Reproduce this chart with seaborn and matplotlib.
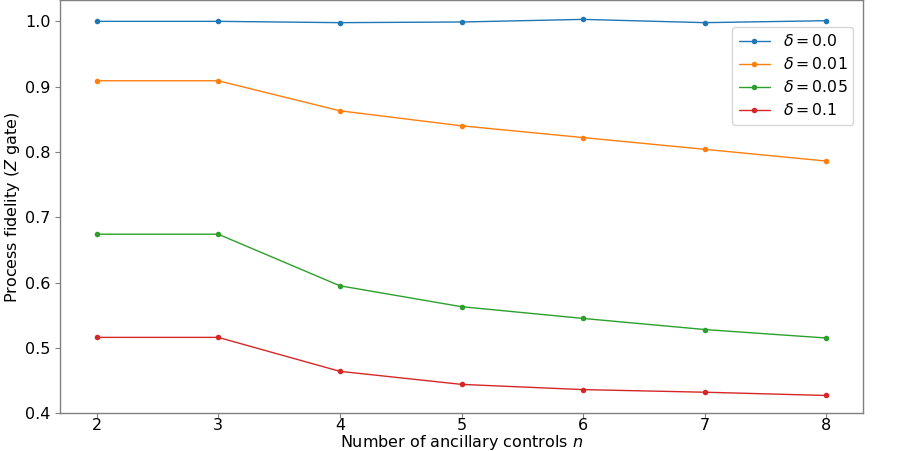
import pandas as pd
import matplotlib
matplotlib.use("Agg")
import matplotlib.pyplot as plt
import seaborn as sns

# Valeurs
n_controls = [2, 3, 4, 5, 6, 7, 8]
fid_d000 = [1.000, 1.000, 0.998, 0.999, 1.003, 0.998, 1.001]
fid_d001 = [0.909, 0.909, 0.863, 0.840, 0.822, 0.804, 0.786]
fid_d005 = [0.674, 0.674, 0.595, 0.563, 0.545, 0.528, 0.515]
fid_d010 = [0.516, 0.516, 0.464, 0.444, 0.436, 0.432, 0.427]
deltas = ["0.0", "0.01", "0.05", "0.1"]

series = [fid_d000, fid_d001, fid_d005, fid_d010]
frames = []
for d, vals in zip(deltas, series):
    frames.append(pd.DataFrame({"n": n_controls, "fidelity": vals,
                                "delta": r"$\delta = " + d + "$"}))
df = pd.concat(frames, ignore_index=True)

sns.set_style("white")
plt.rcParams["font.family"] = ["DejaVu Sans"]
plt.rcParams["text.color"] = "black"
plt.rcParams["axes.labelcolor"] = "black"
plt.rcParams["xtick.color"] = "black"
plt.rcParams["ytick.color"] = "black"

fig, ax = plt.subplots(figsize=(8.97, 4.51), dpi=100)
fig.subplots_adjust(left=0.067, right=0.962, bottom=0.084, top=0.999)

sns.lineplot(data=df, x="n", y="fidelity", hue="delta",
             palette=["#1f77b4", "#ff7f0e", "#2ca02c", "#d62728"],
             marker="o", markersize=4, markeredgewidth=0, linewidth=1, ax=ax)

ax.set_ylim(0.4, 1.032)
ax.set_xticks(n_controls)
ax.tick_params(axis="both", labelsize=11.5, length=3.5, width=0.8,
               bottom=True, left=True, color="#808080")
ax.tick_params(axis="x", pad=0.3)
ax.tick_params(axis="y", pad=3.5)
for sp in ax.spines.values():
    sp.set_color("#808080")
    sp.set_linewidth(1)

ax.set_xlabel("Number of ancillary controls $n$", fontsize=11.5, labelpad=0)
ax.set_ylabel("Process fidelity ($Z$ gate)", fontsize=11.5, labelpad=2)

ax.legend(title=None, loc="upper right", fontsize=11.3, frameon=True,
          bbox_to_anchor=(0.998, 0.955), labelspacing=0.45)

fig.savefig("out.png", dpi=100)
